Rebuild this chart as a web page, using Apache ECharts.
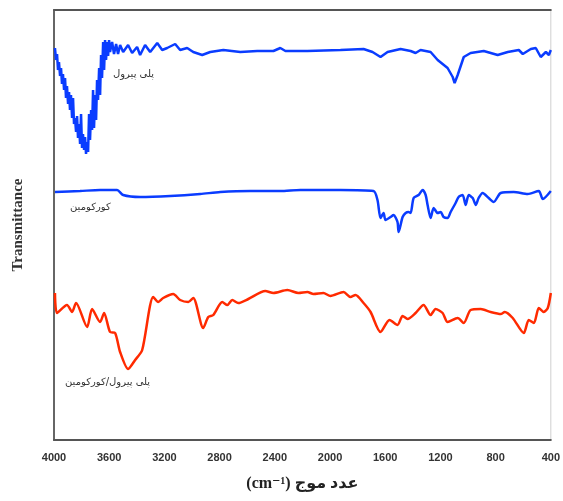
<!doctype html>
<html lang="fa">
<head>
<meta charset="UTF-8">
<title>FTIR</title>
<script src="https://cdn.jsdelivr.net/npm/echarts@6/dist/echarts.min.js"></script>
<style>
  html, body { margin: 0; padding: 0; background: #fff; }
  #main { width: 563px; height: 501px; }
</style>
</head>
<body>
<div id="main"></div>
<script>
// tick labels of the wavenumber axis
var xTicks = [4000, 3600, 3200, 2800, 2400, 2000, 1600, 1200, 800, 400];

// series names (labels drawn next to each trace)
var names = ['پلی پیرول', 'کورکومین', 'پلی پیرول/کورکومین'];

// polypyrrole: wavenumber (cm-1) and transmittance (arbitrary, offset)
var ppyWn = [3993, 3985, 3978, 3971, 3964, 3956, 3949, 3942, 3935, 3927, 3920, 3913, 3906, 3898, 3891, 3884, 3877, 3869, 3862, 3855,
             3848, 3840, 3833, 3826, 3819, 3811, 3804, 3797, 3790, 3782, 3775, 3768, 3760, 3753, 3746, 3739, 3731, 3724, 3717, 3710,
             3702, 3695, 3688, 3681, 3673, 3666, 3659, 3652, 3644, 3637, 3630, 3623, 3615, 3608, 3601, 3594, 3579, 3565, 3550, 3536,
             3521, 3499, 3463, 3434, 3398, 3376, 3340, 3303, 3252, 3216, 3180, 3122, 3086, 3035, 2991, 2926, 2868, 2773, 2650, 2527,
             2410, 2360, 2323, 2164, 1924, 1757, 1692, 1634, 1583, 1489, 1416, 1380, 1344, 1271, 1220, 1148, 1111, 1097, 1075, 1031,
             981, 886, 785, 712, 632, 603, 545, 509, 473, 436, 414, 400];
var ppyT = [392, 380, 386, 370, 378, 364, 372, 356, 366, 350, 362, 342, 354, 336, 348, 330, 345, 322, 342, 316,
            322, 308, 324, 302, 316, 296, 326, 292, 306, 290, 303, 286, 298, 288, 326, 300, 330, 310, 350, 312,
            345, 320, 360, 340, 372, 345, 385, 362, 398, 370, 400, 380, 398, 384, 400, 388, 398, 386, 396, 386,
            395, 388, 395, 387, 393, 385, 395, 388, 397, 390, 392, 396, 390, 392, 388, 385, 388, 390, 388, 389,
            389, 392, 389, 389, 390, 391, 388, 383, 388, 391, 389, 387, 390, 388, 380, 372, 363, 357, 365, 383,
            387, 389, 385, 388, 390, 386, 391, 392, 383, 388, 385, 390];

// curcumin
var curWn = [3993, 3811, 3666, 3543, 3499, 3376, 3158, 2940, 2795, 2577, 2360, 2215, 1924, 1685, 1656, 1634, 1612, 1598, 1561, 1540,
             1511, 1503, 1474, 1452, 1431, 1416, 1394, 1358, 1329, 1307, 1293, 1271, 1249, 1220, 1198, 1177, 1148, 1126, 1090, 1068,
             1039, 1017, 995, 966, 944, 923, 894, 850, 814, 763, 669, 567, 487, 458, 400];
var curT = [248, 249, 250, 250, 245, 243, 244, 246, 248, 249, 249, 250, 250, 249, 240, 222, 227, 220, 223, 225,
            218, 208, 223, 227, 228, 227, 242, 245, 250, 245, 235, 222, 232, 227, 228, 223, 222, 228, 237, 243,
            245, 235, 245, 242, 235, 242, 247, 242, 238, 247, 248, 246, 249, 241, 249];

// polypyrrole/curcumin composite
var compWn = [3993, 3978, 3906, 3869, 3840, 3760, 3724, 3666, 3637, 3594, 3557, 3521, 3463, 3412, 3361, 3281, 3245, 3209, 3136, 3086,
              3027, 2991, 2919, 2882, 2846, 2781, 2744, 2708, 2665, 2592, 2469, 2410, 2309, 2229, 2164, 2120, 2048, 1997, 1902, 1852,
              1815, 1757, 1706, 1634, 1569, 1511, 1474, 1438, 1380, 1322, 1271, 1235, 1184, 1148, 1075, 1031, 981, 908, 836, 763,
              734, 676, 596, 560, 523, 487, 451, 422, 400];
var compT = [147, 127, 135, 128, 137, 113, 131, 118, 127, 108, 107, 88, 71, 80, 90, 143, 138, 142, 146, 140,
             138, 142, 112, 123, 125, 138, 135, 140, 137, 141, 149, 147, 150, 147, 148, 146, 147, 144, 148, 143,
             145, 137, 128, 108, 120, 115, 124, 121, 127, 135, 125, 131, 127, 118, 122, 117, 130, 131, 128, 126,
             128, 122, 107, 120, 117, 132, 128, 132, 147];

function pairs(xs, ys) {
    return xs.map(function (x, i) { return [x, ys[i]]; });
}

var myChart = echarts.init(document.getElementById('main'));

var labelStyle = { fill: '#333', fontSize: 10, fontFamily: 'DejaVu Sans' };

var option = {
    backgroundColor: '#fff',
    animation: false,
    grid: { left: 54, right: 12, top: 10, bottom: 61, show: true, borderColor: '#cfcfcf', borderWidth: 1 },
    xAxis: [{
        type: 'value',
        inverse: true,
        min: 400,
        max: 4000,
        interval: 400,
        name: '(cm⁻¹) عدد موج',
        nameLocation: 'middle',
        nameGap: 36,
        nameTextStyle: { fontSize: 16, fontWeight: 'bold', color: '#222', fontFamily: 'Liberation Serif, DejaVu Sans' },
        axisLine: { lineStyle: { color: '#555', width: 2 } },
        axisTick: { show: false },
        splitLine: { show: false },
        axisLabel: {
            margin: 12, fontSize: 11, fontWeight: 'bold', color: '#333', fontFamily: 'Liberation Sans',
            formatter: function (v) { return xTicks.indexOf(v) >= 0 ? String(v) : ''; }
        }
    }, {
        type: 'value',
        position: 'top',
        inverse: true,
        min: 400,
        max: 4000,
        axisLine: { show: true, lineStyle: { color: '#555', width: 2 } },
        axisTick: { show: false },
        axisLabel: { show: false },
        splitLine: { show: false }
    }],
    yAxis: {
        type: 'value',
        min: 0,
        max: 430,
        name: 'Transmittance',
        nameLocation: 'middle',
        nameGap: 28,
        nameTextStyle: { fontSize: 15, fontWeight: 'bold', color: '#333', fontFamily: 'Liberation Serif' },
        axisLine: { show: true, lineStyle: { color: '#666', width: 2 } },
        axisTick: { show: false },
        axisLabel: { show: false },
        splitLine: { show: false }
    },
    graphic: [
        { type: 'text', left: 113, top: 69, style: Object.assign({ text: names[0] }, labelStyle) },
        { type: 'text', left: 70, top: 202, style: Object.assign({ text: names[1] }, labelStyle) },
        { type: 'text', left: 65, top: 377, style: Object.assign({ text: names[2] }, labelStyle) }
    ],
    series: [
        {
            name: names[0], type: 'line', showSymbol: false, symbol: 'none',
            lineStyle: { color: '#0a3cff', width: 2.5 },
            data: pairs(ppyWn, ppyT)
        },
        {
            name: names[1], type: 'line', showSymbol: false, symbol: 'none', smooth: 0.25,
            lineStyle: { color: '#0a3cff', width: 2.5 },
            data: pairs(curWn, curT)
        },
        {
            name: names[2], type: 'line', showSymbol: false, symbol: 'none', smooth: 0.25,
            lineStyle: { color: '#ff2a00', width: 2.5 },
            data: pairs(compWn, compT)
        }
    ]
};

myChart.setOption(option);
</script>
</body>
</html>
